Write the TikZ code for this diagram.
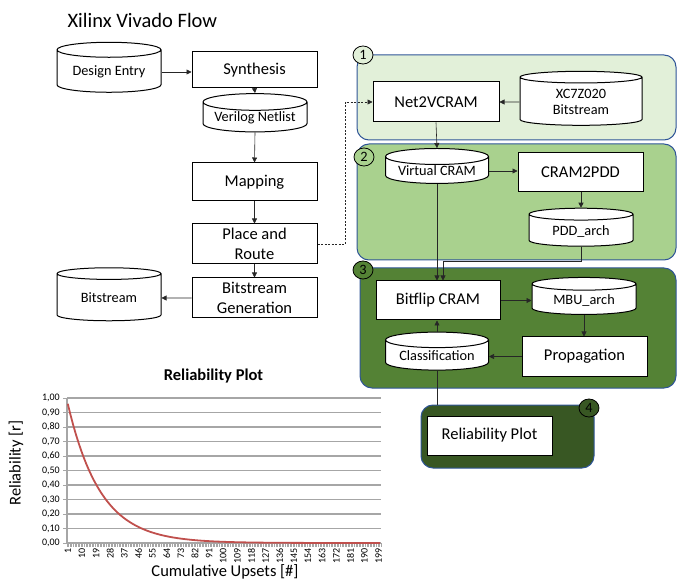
\documentclass[tikz,border=0pt]{standalone}
\usepackage{fontspec}
\setmainfont{Carlito}
\usetikzlibrary{positioning,arrows.meta,shapes.geometric,calc}

\definecolor{stageone}{HTML}{E2F0D9}
\definecolor{stagetwo}{HTML}{A9D18E}
\definecolor{stagethree}{HTML}{548235}
\definecolor{stagefour}{HTML}{385723}
\definecolor{stageline}{HTML}{2F5597}
\definecolor{curvered}{HTML}{C0504D}
\definecolor{gridgray}{HTML}{A6A6A6}

\newcommand\procfont{\fontsize{16.5}{20}\selectfont}
\newcommand\storefont{\fontsize{14.3}{16.5}\selectfont}
\newcommand\headfont{\fontsize{20.5}{24}\selectfont}
\newcommand\tickfont{\fontsize{10}{12}\selectfont}

\begin{document}
\begin{tikzpicture}[x=1pt, y=-1pt,
  procbox/.style={draw, line width=1pt, fill=white, rectangle,
    minimum width=125pt, minimum height=38pt, inner sep=2pt,
    align=center, font=\procfont},
  store/.style={draw, line width=1pt, fill=white, cylinder,
    shape border rotate=90, aspect=0.2, inner sep=1pt,
    align=center, font=\storefont},
  stage/.style={draw=stageline, line width=1pt, rounded corners=12pt,
    rectangle, inner sep=0pt},
  badge/.style={draw, line width=0.8pt, ellipse, minimum width=20pt,
    minimum height=18pt, inner sep=0pt, font=\storefont},
  flow/.style={-{Triangle[length=5pt,width=5pt]}, line width=0.6pt, color=black!85},
  grid/.style={gridgray, line width=1.2pt},
  >=Latex
]
\useasboundingbox (0,0) rectangle (678,580);

% Vivado flow
\node[font=\headfont, anchor=west] (title) at (64,20) {Xilinx Vivado Flow};

\node[store, minimum width=104pt, minimum height=50pt] (entry) at (109,72) {Design Entry};
\node[procbox, minimum height=36pt] (synth) at (254.5,70) {Synthesis};
\node[store, minimum width=104pt, minimum height=38pt] (netlist) at (255,118) {Verilog Netlist};
\node[procbox] (mapping) at (254.5,182) {Mapping};
\node[procbox, minimum height=40pt] (pnr) at (254.5,244) {Place and\\Route};
\node[procbox, minimum height=40pt] (bitgen) at (254.5,298) {Bitstream\\Generation};
\node[store, minimum width=104pt, minimum height=53pt] (bitfile) at (109,298) {Bitstream};

% stages
\node[stage, fill=stageone, minimum width=319pt, minimum height=85pt] (stage1) at (516.5,97.5) {};
\node[stage, fill=stagetwo, minimum width=319pt, minimum height=116pt] (stage2) at (516.5,202) {};
\node[stage, fill=stagethree, minimum width=316pt, minimum height=120pt] (stage3) at (518,328) {};
\node[stage, fill=stagefour, minimum width=173pt, minimum height=63pt] (stage4) at (507.5,436.5) {};

\node[badge, fill=stageone] (badge1) at (363,55) {1};
\node[badge, fill=stagetwo] (badge2) at (364,157) {2};
\node[badge, fill=stagethree] (badge3) at (363,270) {3};
\node[badge, fill=stagefour] (badge4) at (589,408) {4};

% stage 1
\node[procbox, minimum width=126pt, minimum height=40pt] (net2v) at (436,102) {Net2VCRAM};
\node[store, minimum width=122pt, minimum height=54pt] (xcbit) at (581,102) {XC7Z020\\Bitstream};

% stage 2
\node[store, minimum width=103pt, minimum height=34pt] (vcram) at (437,171) {Virtual CRAM};
\node[procbox, minimum height=39pt] (cram2pdd) at (580.5,172.5) {CRAM2PDD};
\node[store, minimum width=104pt, minimum height=38pt] (pddarch) at (581,231) {PDD\_arch};

% stage 3
\node[procbox, minimum width=124pt, minimum height=39pt] (bitflip) at (438,300.5) {Bitflip CRAM};
\node[store, minimum width=104pt, minimum height=37pt] (mbuarch) at (584,300) {MBU\_arch};
\node[procbox, minimum height=39pt] (propag) at (584.5,356.5) {Propagation};
\node[store, minimum width=103pt, minimum height=38pt] (classif) at (437,356) {Classification};

% stage 4
\node[procbox, minimum height=39pt] (relplot) at (489.5,435.5) {Reliability Plot};

% connectors
\draw[flow] (entry.east) -- (entry.east -| synth.west);
\draw[flow] (synth.south) -- (netlist.north);
\draw[flow] (netlist.south) -- (mapping.north);
\draw[flow] (mapping.south) -- (pnr.north);
\draw[flow] (pnr.south) -- (bitgen.north);
\draw[flow] (bitgen.west) -- (bitfile.east);
\draw[flow, dash pattern=on 2pt off 1.5pt] (pnr.east) -- ++(28,0) |- (net2v.west);
\draw[flow] (xcbit.west) -- (net2v.east);
\draw[flow] (net2v.south) -- (vcram.north);
\draw[flow] (vcram.east) -- (vcram.east -| cram2pdd.west);
\draw[flow] (cram2pdd.south -| pddarch.north) -- (pddarch.north);
\draw[flow] (vcram.south) -- (vcram.south |- bitflip.north);
\draw[flow] (pddarch.south) -- ++(0,15) -| ([xshift=5pt]bitflip.north);
\draw[flow] (bitflip.east) -- (bitflip.east -| mbuarch.west);
\draw[flow] (mbuarch.south) -- (mbuarch.south |- propag.north);
\draw[flow] (propag.west) -- (propag.west -| classif.east);
\draw[flow] (classif.north) -- (classif.north |- bitflip.south);
\draw[line width=0.6pt, black!85] (classif.south) -- (classif.south |- stage4.north);

% reliability chart
\node[font=\bfseries\procfont] (charttitle) at (213.5,376) {Reliability Plot};
\foreach \g in {1,...,10}
  \draw[grid] (67,{543-14.5*\g}) -- (381,{543-14.5*\g});
\draw[grid] (67,543) -- (381,543);
\draw[grid] (67,398) -- (67,543);
\foreach \g in {0,...,10}
  \draw[gridgray, line width=0.8pt] (63,{543-14.5*\g}) -- (67,{543-14.5*\g});
\foreach \g in {0,...,9}
  \node[font=\tickfont, anchor=east, inner sep=1pt] (ytick\g) at (61,{543-14.5*\g}) {0,\g0};
\node[font=\tickfont, anchor=east, inner sep=1pt] (ytick10) at (61,398) {1,00};
\foreach \n in {0,...,200}
  \draw[gridgray, line width=0.5pt] ({67+\n*1.57},543) -- ({67+\n*1.57},546.5);
\foreach \n in {1,10,...,199}
  \node[font=\tickfont, anchor=north, inner sep=1pt] (xtick\n) at ({67+(\n-0.5)*1.57},547) {\rotatebox{90}{\n}};
\draw[curvered, line width=1.8pt] plot[domain=1:200, samples=120]
  ({67+(\x-0.5)*1.57}, {543-145*0.96*exp(-0.048*(\x-1))});
\node[font=\procfont] (xlabel) at (225,572) {Cumulative Upsets [\#]};
\node[font=\procfont, rotate=90] (ylabel) at (16,463) {Reliability [r]};
\end{tikzpicture}
\end{document}
